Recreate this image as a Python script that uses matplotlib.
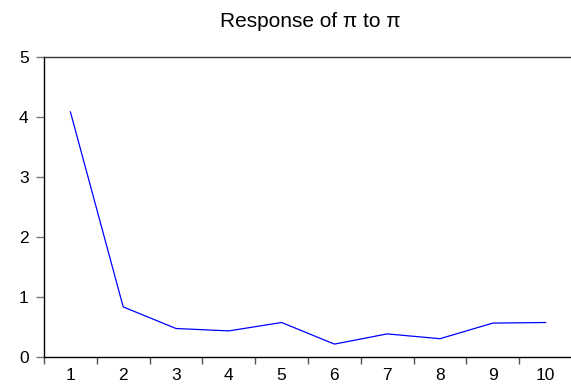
import matplotlib
matplotlib.use("Agg")
import matplotlib.pyplot as plt
import numpy as np

plt.rcParams['font.family'] = ['Liberation Sans', 'DejaVu Sans']

periods = np.arange(1, 11)
response = [4.09, 0.84, 0.48, 0.44, 0.58, 0.22, 0.39, 0.31, 0.57, 0.58]
title = "Response of \u03c0 to \u03c0"

fig = plt.figure(figsize=(5.71, 3.87), dpi=100)
ax = fig.add_axes([44 / 571, 29.7 / 387, 528 / 571, 300 / 387])

ax.plot(periods, response, color="#0000ff", lw=0.9)

ax.set_xlim(0.5, 10.5)
ax.set_ylim(0, 5)

# tick marks sit between periods, labels on the periods themselves
ax.set_xticks(np.arange(0.5, 11, 1))
ax.set_xticklabels([])
ax.set_xticks(periods, minor=True)
ax.set_xticklabels([str(p) for p in periods], minor=True)
ax.tick_params(axis="x", which="major", direction="out", length=5, width=1, color="#555555")
ax.tick_params(axis="x", which="minor", length=0, pad=8, labelsize=12.5)

ax.set_yticks(range(0, 6))
ax.tick_params(axis="y", direction="out", length=6, width=1, color="#777777", pad=5, labelsize=12.5)

ax.spines["right"].set_visible(False)
ax.spines["top"].set_color("#333333")
for s in ax.spines.values():
    s.set_linewidth(1.0)

fig.text(310 / 571, 1 - 27 / 387, title, ha="center", va="baseline", fontsize=15)

fig.savefig("out.png", dpi=100)
